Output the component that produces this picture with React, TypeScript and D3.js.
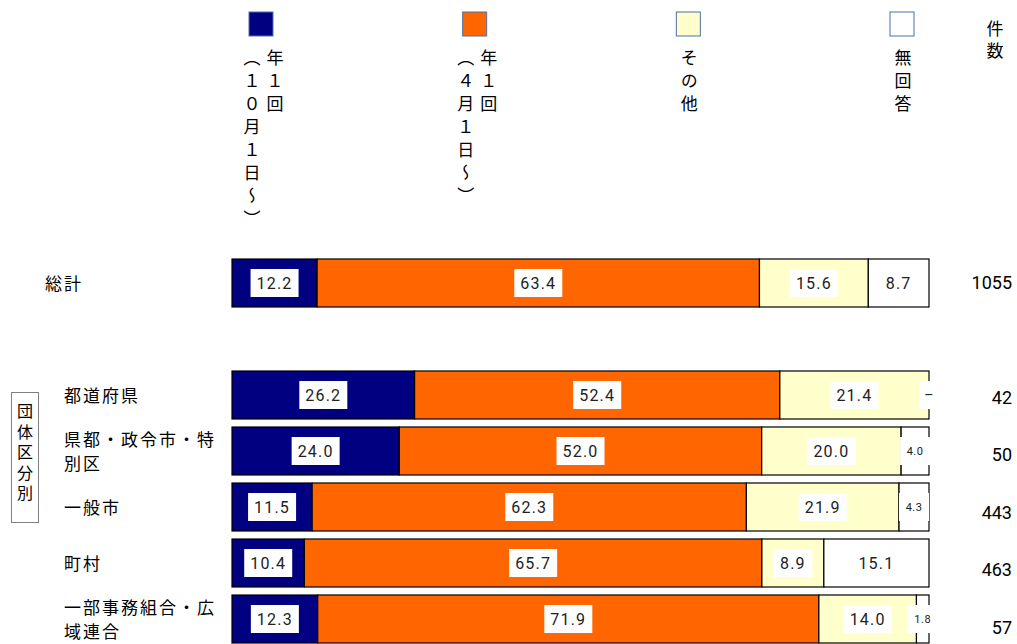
import React from "react";
import * as d3 from "d3";

const categories = ["総計", "都道府県", "県都・政令市・特別区", "一般市", "町村", "一部事務組合・広域連合"];
const categoryLines = [["総計"], ["都道府県"], ["県都・政令市・特", "別区"], ["一般市"], ["町村"], ["一部事務組合・広", "域連合"]];
const rowKeys = ["総計", "_gap", "都道府県", "県都・政令市・特別区", "一般市", "町村", "一部事務組合・広域連合"];

const seriesNames = ["年１回（１０月１日～）", "年１回（４月１日～）", "その他", "無回答"];
const legendColumns = [["年１回", "（１０月１日～）"], ["年１回", "（４月１日～）"], ["その他"], ["無回答"]];
const seriesColors = ["#000080", "#FF6600", "#FFFFCC", "#FFFFFF"];

const annualOct = [12.2, 26.2, 24.0, 11.5, 10.4, 12.3];
const annualApr = [63.4, 52.4, 52.0, 62.3, 65.7, 71.9];
const other = [15.6, 21.4, 20.0, 21.9, 8.9, 14.0];
const noAnswer = [8.7, 0, 4.0, 4.3, 15.1, 1.8];
const counts = [1055, 42, 50, 443, 463, 57];

const groupLabel = "団体区分別";
const countHeader = "件数";

const JP = "'Noto Sans CJK JP', 'Noto Sans', sans-serif";
const NUM = "Roboto, 'Noto Sans', sans-serif";

export default function App() {
  const W = 1017, H = 644;
  const x = d3.scaleLinear().domain([0, 100]).range([232, 929]);
  const y = d3.scaleBand<string>().domain(rowKeys).range([259, 643]).paddingInner(8 / 56).paddingOuter(0);
  const yCount = d3.scalePoint<string>().domain(rowKeys).range([282, 627]);
  const legendX = d3.scalePoint<string>().domain(seriesNames).range([261, 902]);

  const seriesValues = [annualOct, annualApr, other, noAnswer];
  const rows = categories.map((c, i) => {
    const vals = seriesValues.map((s) => s[i]);
    const total = d3.sum(vals);
    const norm = vals.map((v) => (v / total) * 100);
    const stack: { name: string; v: number; x0: number; x1: number; color: string }[] = [];
    let acc = 0;
    norm.forEach((v, k) => {
      stack.push({ name: seriesNames[k], v: vals[k], x0: acc, x1: acc + v, color: seriesColors[k] });
      acc += v;
    });
    return { cat: c, lines: categoryLines[i], stack, count: counts[i] };
  });

  return (
    <svg width={W} height={H} style={{ position: "absolute", left: 0, top: 0, background: "#fff" }}>
      {/* legend */}
      {seriesNames.map((s, k) => {
        const cx = legendX(s)!;
        const cols = legendColumns[k];
        return (
          <g key={s}>
            <rect x={cx - 12} y={12} width={24} height={24} fill={seriesColors[k]} stroke="#4F6FA8" strokeWidth={1} />
            {cols.map((col, j) => {
              const colX = cols.length === 1 ? cx + 1 : cx + 14 - j * 23;
              return (
                <text key={j} x={colX} y={49} fontFamily={JP} fontSize={17} letterSpacing={6}
                  style={{ writingMode: "vertical-rl" as any }} fill="#000">{col}</text>
              );
            })}
          </g>
        );
      })}
      <text x={995} y={20} fontFamily={JP} fontSize={17} letterSpacing={5} style={{ writingMode: "vertical-rl" as any }} fill="#000">{countHeader}</text>

      {/* group label */}
      <rect x={11.5} y={392.5} width={27} height={130} fill="#fff" stroke="#808080" strokeWidth={1} />
      <text x={25} y={403} fontFamily={JP} fontSize={16} letterSpacing={4.5} style={{ writingMode: "vertical-rl" as any }} fill="#000">{groupLabel}</text>

      {/* bars */}
      {rows.map((r) => {
        const y0 = y(r.cat)!;
        const bh = y.bandwidth();
        const cy = y0 + bh / 2;
        return (
          <g key={r.cat}>
            {r.stack.map((s) => (
              <rect key={s.name} x={x(s.x0)} y={y0} width={Math.max(0, x(s.x1) - x(s.x0))} height={bh}
                fill={s.color} stroke="#000" strokeWidth={1.2} />
            ))}
            {r.stack.map((s) => {
              const small = s.v < 5;
              const label = s.v === 0 ? "–" : s.v.toFixed(1);
              const bw = s.v === 0 ? 19 : small ? label.length * 6 + 12 : label.length * 9 + 12;
              const mx = (x(s.x0) + x(s.x1)) / 2;
              return (
                <g key={s.name + "l"}>
                  <rect x={mx - bw / 2} y={cy - 14} width={bw} height={28} fill="#fff" />
                  <text x={mx} y={cy} textAnchor="middle" dominantBaseline="central" fontFamily={NUM}
                    fontSize={small ? (s.v === 0 ? 14 : 11) : 16} letterSpacing={small ? 0.5 : 1.2} fill="#222">{label}</text>
                </g>
              );
            })}
            {r.lines.map((ln, j) => {
              const n = r.lines.length;
              const ly = cy - 1 + (j - (n - 1) / 2) * 24;
              const lx = r.cat === "総計" ? 45 : 64;
              return (
                <text key={j} x={lx} y={ly} dominantBaseline="central" fontFamily={JP} fontSize={17}
                  letterSpacing={2} fill="#000">{ln}</text>
              );
            })}
            <text x={1012} y={yCount(r.cat)!} textAnchor="end" dominantBaseline="central" fontFamily={NUM}
              fontSize={18} fill="#000">{r.count}</text>
          </g>
        );
      })}
    </svg>
  );
}
